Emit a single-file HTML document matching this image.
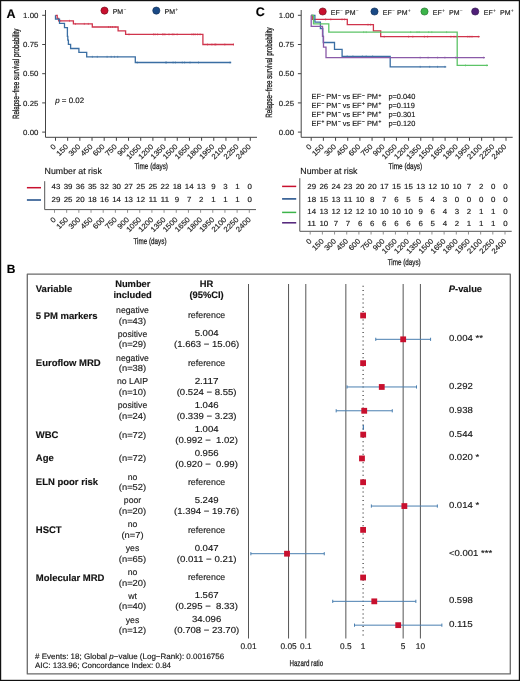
<!DOCTYPE html><html><head><meta charset="utf-8"><style>html,body{margin:0;padding:0;background:#fff;}svg{display:block;will-change:transform;} text{stroke:#1a1a1a;stroke-width:0.2px;stroke-opacity:0.7;text-rendering:geometricPrecision}</style></head><body>
<svg width="520" height="681" viewBox="0 0 520 681" font-family="Liberation Sans, sans-serif">
<rect x="0" y="0" width="520" height="681" fill="#fff"/>
<text x="6.6" y="17.9" font-size="12.5" text-anchor="start" font-weight="bold" fill="#000" xml:space="preserve" >A</text>
<text x="255.8" y="16.2" font-size="12.5" text-anchor="start" font-weight="bold" fill="#000" xml:space="preserve" >C</text>
<text x="6.8" y="272.5" font-size="12" text-anchor="start" font-weight="bold" fill="#000" xml:space="preserve" >B</text>
<g stroke="#444" stroke-width="1" fill="none">
<path d="M45.5,10 V137.3 H257"/>
<path d="M42.2,15.3 H45.5"/>
<path d="M42.2,44.5 H45.5"/>
<path d="M42.2,73.7 H45.5"/>
<path d="M42.2,102.9 H45.5"/>
<path d="M42.2,132.1 H45.5"/>
<path d="M55.5,137.3 V140.8"/>
<path d="M67.67,137.3 V140.8"/>
<path d="M79.85,137.3 V140.8"/>
<path d="M92.03,137.3 V140.8"/>
<path d="M104.2,137.3 V140.8"/>
<path d="M116.38,137.3 V140.8"/>
<path d="M128.55,137.3 V140.8"/>
<path d="M140.73,137.3 V140.8"/>
<path d="M152.9,137.3 V140.8"/>
<path d="M165.07,137.3 V140.8"/>
<path d="M177.25,137.3 V140.8"/>
<path d="M189.43,137.3 V140.8"/>
<path d="M201.6,137.3 V140.8"/>
<path d="M213.78,137.3 V140.8"/>
<path d="M225.95,137.3 V140.8"/>
<path d="M238.12,137.3 V140.8"/>
<path d="M250.3,137.3 V140.8"/>
</g>
<text x="38.4" y="17.9" font-size="7.4" text-anchor="end" fill="#1c1c1c" textLength="15.27" lengthAdjust="spacingAndGlyphs" xml:space="preserve" >1.00</text>
<text x="38.4" y="47.1" font-size="7.4" text-anchor="end" fill="#1c1c1c" textLength="15.27" lengthAdjust="spacingAndGlyphs" xml:space="preserve" >0.75</text>
<text x="38.4" y="76.3" font-size="7.4" text-anchor="end" fill="#1c1c1c" textLength="15.27" lengthAdjust="spacingAndGlyphs" xml:space="preserve" >0.50</text>
<text x="38.4" y="105.5" font-size="7.4" text-anchor="end" fill="#1c1c1c" textLength="15.27" lengthAdjust="spacingAndGlyphs" xml:space="preserve" >0.25</text>
<text x="38.4" y="134.7" font-size="7.4" text-anchor="end" fill="#1c1c1c" textLength="15.27" lengthAdjust="spacingAndGlyphs" xml:space="preserve" >0.00</text>
<text transform="translate(18.9,73.8) rotate(-90)" font-size="9" text-anchor="middle" fill="#1a1a1a" style="stroke-width:0.3px;stroke-opacity:1" textLength="90.5" lengthAdjust="spacingAndGlyphs">Relapse−free survival probability</text>
<text transform="translate(56.5,147.2) rotate(-45)" font-size="7.4" text-anchor="end" fill="#1c1c1c" textLength="4.44" lengthAdjust="spacingAndGlyphs">0</text>
<text transform="translate(68.67,147.2) rotate(-45)" font-size="7.4" text-anchor="end" fill="#1c1c1c" textLength="13.33" lengthAdjust="spacingAndGlyphs">150</text>
<text transform="translate(80.85,147.2) rotate(-45)" font-size="7.4" text-anchor="end" fill="#1c1c1c" textLength="13.33" lengthAdjust="spacingAndGlyphs">300</text>
<text transform="translate(93.03,147.2) rotate(-45)" font-size="7.4" text-anchor="end" fill="#1c1c1c" textLength="13.33" lengthAdjust="spacingAndGlyphs">450</text>
<text transform="translate(105.2,147.2) rotate(-45)" font-size="7.4" text-anchor="end" fill="#1c1c1c" textLength="13.33" lengthAdjust="spacingAndGlyphs">600</text>
<text transform="translate(117.38,147.2) rotate(-45)" font-size="7.4" text-anchor="end" fill="#1c1c1c" textLength="13.33" lengthAdjust="spacingAndGlyphs">750</text>
<text transform="translate(129.55,147.2) rotate(-45)" font-size="7.4" text-anchor="end" fill="#1c1c1c" textLength="13.33" lengthAdjust="spacingAndGlyphs">900</text>
<text transform="translate(141.73,147.2) rotate(-45)" font-size="7.4" text-anchor="end" fill="#1c1c1c" textLength="17.78" lengthAdjust="spacingAndGlyphs">1050</text>
<text transform="translate(153.9,147.2) rotate(-45)" font-size="7.4" text-anchor="end" fill="#1c1c1c" textLength="17.78" lengthAdjust="spacingAndGlyphs">1200</text>
<text transform="translate(166.07,147.2) rotate(-45)" font-size="7.4" text-anchor="end" fill="#1c1c1c" textLength="17.78" lengthAdjust="spacingAndGlyphs">1350</text>
<text transform="translate(178.25,147.2) rotate(-45)" font-size="7.4" text-anchor="end" fill="#1c1c1c" textLength="17.78" lengthAdjust="spacingAndGlyphs">1500</text>
<text transform="translate(190.43,147.2) rotate(-45)" font-size="7.4" text-anchor="end" fill="#1c1c1c" textLength="17.78" lengthAdjust="spacingAndGlyphs">1650</text>
<text transform="translate(202.6,147.2) rotate(-45)" font-size="7.4" text-anchor="end" fill="#1c1c1c" textLength="17.78" lengthAdjust="spacingAndGlyphs">1800</text>
<text transform="translate(214.78,147.2) rotate(-45)" font-size="7.4" text-anchor="end" fill="#1c1c1c" textLength="17.78" lengthAdjust="spacingAndGlyphs">1950</text>
<text transform="translate(226.95,147.2) rotate(-45)" font-size="7.4" text-anchor="end" fill="#1c1c1c" textLength="17.78" lengthAdjust="spacingAndGlyphs">2100</text>
<text transform="translate(239.12,147.2) rotate(-45)" font-size="7.4" text-anchor="end" fill="#1c1c1c" textLength="17.78" lengthAdjust="spacingAndGlyphs">2250</text>
<text transform="translate(251.3,147.2) rotate(-45)" font-size="7.4" text-anchor="end" fill="#1c1c1c" textLength="17.78" lengthAdjust="spacingAndGlyphs">2400</text>
<text x="151.2" y="169.2" font-size="8.5" text-anchor="middle" fill="#1a1a1a" style="stroke-width:0.25px;stroke-opacity:1" textLength="33.6" lengthAdjust="spacingAndGlyphs">Time (days)</text>
<path d="M55.5,15.3 H57.2 V18.3 H58.6 V20.8 H73.4 V23.9 H92.3 V27 H118.1 V30.8 H125.6 V34.4 H202.9 V44.5 H234" fill="none" stroke="#d0344c" stroke-width="1.3"/>
<path d="M60.7,19.8 V21.8" stroke="#d0344c" stroke-width="0.6"/>
<path d="M69.5,19.8 V21.8" stroke="#d0344c" stroke-width="0.6"/>
<path d="M75.5,22.9 V24.9" stroke="#d0344c" stroke-width="0.6"/>
<path d="M84.3,22.9 V24.9" stroke="#d0344c" stroke-width="0.6"/>
<path d="M88.3,22.9 V24.9" stroke="#d0344c" stroke-width="0.6"/>
<path d="M108.5,26 V28" stroke="#d0344c" stroke-width="0.6"/>
<path d="M110.5,26 V28" stroke="#d0344c" stroke-width="0.6"/>
<path d="M112.5,26 V28" stroke="#d0344c" stroke-width="0.6"/>
<path d="M115.2,26 V28" stroke="#d0344c" stroke-width="0.6"/>
<path d="M129,33.4 V35.4" stroke="#d0344c" stroke-width="0.6"/>
<path d="M153.5,33.4 V35.4" stroke="#d0344c" stroke-width="0.6"/>
<path d="M155.1,33.4 V35.4" stroke="#d0344c" stroke-width="0.6"/>
<path d="M157.6,33.4 V35.4" stroke="#d0344c" stroke-width="0.6"/>
<path d="M162.5,33.4 V35.4" stroke="#d0344c" stroke-width="0.6"/>
<path d="M163.8,33.4 V35.4" stroke="#d0344c" stroke-width="0.6"/>
<path d="M165,33.4 V35.4" stroke="#d0344c" stroke-width="0.6"/>
<path d="M169,33.4 V35.4" stroke="#d0344c" stroke-width="0.6"/>
<path d="M172.3,33.4 V35.4" stroke="#d0344c" stroke-width="0.6"/>
<path d="M173.9,33.4 V35.4" stroke="#d0344c" stroke-width="0.6"/>
<path d="M177.2,33.4 V35.4" stroke="#d0344c" stroke-width="0.6"/>
<path d="M191.9,33.4 V35.4" stroke="#d0344c" stroke-width="0.6"/>
<path d="M193.6,33.4 V35.4" stroke="#d0344c" stroke-width="0.6"/>
<path d="M195.2,33.4 V35.4" stroke="#d0344c" stroke-width="0.6"/>
<path d="M197.6,33.4 V35.4" stroke="#d0344c" stroke-width="0.6"/>
<path d="M200.1,33.4 V35.4" stroke="#d0344c" stroke-width="0.6"/>
<path d="M207.5,43.5 V45.5" stroke="#d0344c" stroke-width="0.6"/>
<path d="M211.9,43.5 V45.5" stroke="#d0344c" stroke-width="0.6"/>
<path d="M214.9,43.5 V45.5" stroke="#d0344c" stroke-width="0.6"/>
<path d="M215.8,43.5 V45.5" stroke="#d0344c" stroke-width="0.6"/>
<path d="M224.8,43.5 V45.5" stroke="#d0344c" stroke-width="0.6"/>
<path d="M233.5,43.5 V45.5" stroke="#d0344c" stroke-width="0.6"/>
<path d="M55.5,15.3 V19.1 H59.5 V23.3 H64.5 V27.6 H67.4 V36.4 H67.8 V40.2 H68.4 V44.3 H70.6 V48.5 H78.9 V52.4 H86.7 V56.8 H135.3 V62.5 H231.2" fill="none" stroke="#3a6ea3" stroke-width="1.3"/>
<path d="M92.4,55.8 V57.8" stroke="#3a6ea3" stroke-width="0.6"/>
<path d="M97.3,55.8 V57.8" stroke="#3a6ea3" stroke-width="0.6"/>
<path d="M107.1,55.8 V57.8" stroke="#3a6ea3" stroke-width="0.6"/>
<path d="M111.2,55.8 V57.8" stroke="#3a6ea3" stroke-width="0.6"/>
<path d="M114.4,55.8 V57.8" stroke="#3a6ea3" stroke-width="0.6"/>
<path d="M117.7,55.8 V57.8" stroke="#3a6ea3" stroke-width="0.6"/>
<path d="M137.3,61.5 V63.5" stroke="#3a6ea3" stroke-width="0.6"/>
<path d="M165.9,61.5 V63.5" stroke="#3a6ea3" stroke-width="0.6"/>
<path d="M166.2,61.5 V63.5" stroke="#3a6ea3" stroke-width="0.6"/>
<path d="M173.1,61.5 V63.5" stroke="#3a6ea3" stroke-width="0.6"/>
<path d="M175.4,61.5 V63.5" stroke="#3a6ea3" stroke-width="0.6"/>
<path d="M182.3,61.5 V63.5" stroke="#3a6ea3" stroke-width="0.6"/>
<path d="M184.6,61.5 V63.5" stroke="#3a6ea3" stroke-width="0.6"/>
<path d="M190,61.5 V63.5" stroke="#3a6ea3" stroke-width="0.6"/>
<path d="M198.5,61.5 V63.5" stroke="#3a6ea3" stroke-width="0.6"/>
<path d="M230,61.5 V63.5" stroke="#3a6ea3" stroke-width="0.6"/>
<circle cx="104.5" cy="10.6" r="3.6" fill="#c8102e" stroke="#6a0a18" stroke-width="0.6"/>
<text x="112.7" y="14" font-size="7" fill="#151515">PM<tspan font-size="4.20" fill="#8a8a8a" dx="0.5" dy="-2.9">−</tspan></text>
<circle cx="156.3" cy="10.6" r="3.6" fill="#1a4a86" stroke="#0e2a50" stroke-width="0.6"/>
<text x="164.6" y="14" font-size="7" fill="#151515">PM<tspan font-size="4.20" fill="#444" dx="0.5" dy="-2.9">+</tspan></text>
<text x="55.2" y="103" font-size="7.8" fill="#151515" textLength="29" lengthAdjust="spacingAndGlyphs"><tspan font-style="italic">p</tspan> = 0.02</text>
<text x="44.6" y="173.8" font-size="8.8" fill="#151515">Number at risk</text>
<g stroke="#444" stroke-width="1" fill="none">
<path d="M44.7,181.2 V209.6 H256" stroke="#555"/>
<path d="M54.5,209.6 V212.8" stroke="#777" stroke-width="0.8"/>
<path d="M66.67,209.6 V212.8" stroke="#777" stroke-width="0.8"/>
<path d="M78.85,209.6 V212.8" stroke="#777" stroke-width="0.8"/>
<path d="M91.03,209.6 V212.8" stroke="#777" stroke-width="0.8"/>
<path d="M103.2,209.6 V212.8" stroke="#777" stroke-width="0.8"/>
<path d="M115.38,209.6 V212.8" stroke="#777" stroke-width="0.8"/>
<path d="M127.55,209.6 V212.8" stroke="#777" stroke-width="0.8"/>
<path d="M139.73,209.6 V212.8" stroke="#777" stroke-width="0.8"/>
<path d="M151.9,209.6 V212.8" stroke="#777" stroke-width="0.8"/>
<path d="M164.07,209.6 V212.8" stroke="#777" stroke-width="0.8"/>
<path d="M176.25,209.6 V212.8" stroke="#777" stroke-width="0.8"/>
<path d="M188.43,209.6 V212.8" stroke="#777" stroke-width="0.8"/>
<path d="M200.6,209.6 V212.8" stroke="#777" stroke-width="0.8"/>
<path d="M212.78,209.6 V212.8" stroke="#777" stroke-width="0.8"/>
<path d="M224.95,209.6 V212.8" stroke="#777" stroke-width="0.8"/>
<path d="M237.12,209.6 V212.8" stroke="#777" stroke-width="0.8"/>
<path d="M249.3,209.6 V212.8" stroke="#777" stroke-width="0.8"/>
</g>
<path d="M26.9,187.7 H41" stroke="#c8102e" stroke-width="1.5"/>
<text x="56" y="189" font-size="7.4" text-anchor="middle" fill="#151515" textLength="8.81" lengthAdjust="spacingAndGlyphs" xml:space="preserve" >43</text>
<text x="68.11" y="189" font-size="7.4" text-anchor="middle" fill="#151515" textLength="8.81" lengthAdjust="spacingAndGlyphs" xml:space="preserve" >39</text>
<text x="80.21" y="189" font-size="7.4" text-anchor="middle" fill="#151515" textLength="8.81" lengthAdjust="spacingAndGlyphs" xml:space="preserve" >36</text>
<text x="92.31" y="189" font-size="7.4" text-anchor="middle" fill="#151515" textLength="8.81" lengthAdjust="spacingAndGlyphs" xml:space="preserve" >35</text>
<text x="104.42" y="189" font-size="7.4" text-anchor="middle" fill="#151515" textLength="8.81" lengthAdjust="spacingAndGlyphs" xml:space="preserve" >32</text>
<text x="116.53" y="189" font-size="7.4" text-anchor="middle" fill="#151515" textLength="8.81" lengthAdjust="spacingAndGlyphs" xml:space="preserve" >30</text>
<text x="128.63" y="189" font-size="7.4" text-anchor="middle" fill="#151515" textLength="8.81" lengthAdjust="spacingAndGlyphs" xml:space="preserve" >27</text>
<text x="140.74" y="189" font-size="7.4" text-anchor="middle" fill="#151515" textLength="8.81" lengthAdjust="spacingAndGlyphs" xml:space="preserve" >25</text>
<text x="152.84" y="189" font-size="7.4" text-anchor="middle" fill="#151515" textLength="8.81" lengthAdjust="spacingAndGlyphs" xml:space="preserve" >25</text>
<text x="164.94" y="189" font-size="7.4" text-anchor="middle" fill="#151515" textLength="8.81" lengthAdjust="spacingAndGlyphs" xml:space="preserve" >22</text>
<text x="177.05" y="189" font-size="7.4" text-anchor="middle" fill="#151515" textLength="8.81" lengthAdjust="spacingAndGlyphs" xml:space="preserve" >18</text>
<text x="189.16" y="189" font-size="7.4" text-anchor="middle" fill="#151515" textLength="8.81" lengthAdjust="spacingAndGlyphs" xml:space="preserve" >14</text>
<text x="201.26" y="189" font-size="7.4" text-anchor="middle" fill="#151515" textLength="8.81" lengthAdjust="spacingAndGlyphs" xml:space="preserve" >13</text>
<text x="213.37" y="189" font-size="7.4" text-anchor="middle" fill="#151515" textLength="4.40" lengthAdjust="spacingAndGlyphs" xml:space="preserve" >9</text>
<text x="225.47" y="189" font-size="7.4" text-anchor="middle" fill="#151515" textLength="4.40" lengthAdjust="spacingAndGlyphs" xml:space="preserve" >3</text>
<text x="237.58" y="189" font-size="7.4" text-anchor="middle" fill="#151515" textLength="4.40" lengthAdjust="spacingAndGlyphs" xml:space="preserve" >1</text>
<text x="249.68" y="189" font-size="7.4" text-anchor="middle" fill="#151515" textLength="4.40" lengthAdjust="spacingAndGlyphs" xml:space="preserve" >0</text>
<path d="M26.9,200 H41" stroke="#1a4a86" stroke-width="1.5"/>
<text x="56" y="201.6" font-size="7.4" text-anchor="middle" fill="#151515" textLength="8.81" lengthAdjust="spacingAndGlyphs" xml:space="preserve" >29</text>
<text x="68.11" y="201.6" font-size="7.4" text-anchor="middle" fill="#151515" textLength="8.81" lengthAdjust="spacingAndGlyphs" xml:space="preserve" >25</text>
<text x="80.21" y="201.6" font-size="7.4" text-anchor="middle" fill="#151515" textLength="8.81" lengthAdjust="spacingAndGlyphs" xml:space="preserve" >20</text>
<text x="92.31" y="201.6" font-size="7.4" text-anchor="middle" fill="#151515" textLength="8.81" lengthAdjust="spacingAndGlyphs" xml:space="preserve" >18</text>
<text x="104.42" y="201.6" font-size="7.4" text-anchor="middle" fill="#151515" textLength="8.81" lengthAdjust="spacingAndGlyphs" xml:space="preserve" >16</text>
<text x="116.53" y="201.6" font-size="7.4" text-anchor="middle" fill="#151515" textLength="8.81" lengthAdjust="spacingAndGlyphs" xml:space="preserve" >14</text>
<text x="128.63" y="201.6" font-size="7.4" text-anchor="middle" fill="#151515" textLength="8.81" lengthAdjust="spacingAndGlyphs" xml:space="preserve" >13</text>
<text x="140.74" y="201.6" font-size="7.4" text-anchor="middle" fill="#151515" textLength="8.81" lengthAdjust="spacingAndGlyphs" xml:space="preserve" >12</text>
<text x="152.84" y="201.6" font-size="7.4" text-anchor="middle" fill="#151515" textLength="8.81" lengthAdjust="spacingAndGlyphs" xml:space="preserve" >11</text>
<text x="164.94" y="201.6" font-size="7.4" text-anchor="middle" fill="#151515" textLength="8.81" lengthAdjust="spacingAndGlyphs" xml:space="preserve" >11</text>
<text x="177.05" y="201.6" font-size="7.4" text-anchor="middle" fill="#151515" textLength="4.40" lengthAdjust="spacingAndGlyphs" xml:space="preserve" >9</text>
<text x="189.16" y="201.6" font-size="7.4" text-anchor="middle" fill="#151515" textLength="4.40" lengthAdjust="spacingAndGlyphs" xml:space="preserve" >7</text>
<text x="201.26" y="201.6" font-size="7.4" text-anchor="middle" fill="#151515" textLength="4.40" lengthAdjust="spacingAndGlyphs" xml:space="preserve" >2</text>
<text x="213.37" y="201.6" font-size="7.4" text-anchor="middle" fill="#151515" textLength="4.40" lengthAdjust="spacingAndGlyphs" xml:space="preserve" >1</text>
<text x="225.47" y="201.6" font-size="7.4" text-anchor="middle" fill="#151515" textLength="4.40" lengthAdjust="spacingAndGlyphs" xml:space="preserve" >1</text>
<text x="237.58" y="201.6" font-size="7.4" text-anchor="middle" fill="#151515" textLength="4.40" lengthAdjust="spacingAndGlyphs" xml:space="preserve" >1</text>
<text x="249.68" y="201.6" font-size="7.4" text-anchor="middle" fill="#151515" textLength="4.40" lengthAdjust="spacingAndGlyphs" xml:space="preserve" >0</text>
<text transform="translate(56.5,220) rotate(-45)" font-size="7.4" text-anchor="end" fill="#1c1c1c" textLength="4.44" lengthAdjust="spacingAndGlyphs">0</text>
<text transform="translate(68.67,220) rotate(-45)" font-size="7.4" text-anchor="end" fill="#1c1c1c" textLength="13.33" lengthAdjust="spacingAndGlyphs">150</text>
<text transform="translate(80.85,220) rotate(-45)" font-size="7.4" text-anchor="end" fill="#1c1c1c" textLength="13.33" lengthAdjust="spacingAndGlyphs">300</text>
<text transform="translate(93.03,220) rotate(-45)" font-size="7.4" text-anchor="end" fill="#1c1c1c" textLength="13.33" lengthAdjust="spacingAndGlyphs">450</text>
<text transform="translate(105.2,220) rotate(-45)" font-size="7.4" text-anchor="end" fill="#1c1c1c" textLength="13.33" lengthAdjust="spacingAndGlyphs">600</text>
<text transform="translate(117.38,220) rotate(-45)" font-size="7.4" text-anchor="end" fill="#1c1c1c" textLength="13.33" lengthAdjust="spacingAndGlyphs">750</text>
<text transform="translate(129.55,220) rotate(-45)" font-size="7.4" text-anchor="end" fill="#1c1c1c" textLength="13.33" lengthAdjust="spacingAndGlyphs">900</text>
<text transform="translate(141.73,220) rotate(-45)" font-size="7.4" text-anchor="end" fill="#1c1c1c" textLength="17.78" lengthAdjust="spacingAndGlyphs">1050</text>
<text transform="translate(153.9,220) rotate(-45)" font-size="7.4" text-anchor="end" fill="#1c1c1c" textLength="17.78" lengthAdjust="spacingAndGlyphs">1200</text>
<text transform="translate(166.07,220) rotate(-45)" font-size="7.4" text-anchor="end" fill="#1c1c1c" textLength="17.78" lengthAdjust="spacingAndGlyphs">1350</text>
<text transform="translate(178.25,220) rotate(-45)" font-size="7.4" text-anchor="end" fill="#1c1c1c" textLength="17.78" lengthAdjust="spacingAndGlyphs">1500</text>
<text transform="translate(190.43,220) rotate(-45)" font-size="7.4" text-anchor="end" fill="#1c1c1c" textLength="17.78" lengthAdjust="spacingAndGlyphs">1650</text>
<text transform="translate(202.6,220) rotate(-45)" font-size="7.4" text-anchor="end" fill="#1c1c1c" textLength="17.78" lengthAdjust="spacingAndGlyphs">1800</text>
<text transform="translate(214.78,220) rotate(-45)" font-size="7.4" text-anchor="end" fill="#1c1c1c" textLength="17.78" lengthAdjust="spacingAndGlyphs">1950</text>
<text transform="translate(226.95,220) rotate(-45)" font-size="7.4" text-anchor="end" fill="#1c1c1c" textLength="17.78" lengthAdjust="spacingAndGlyphs">2100</text>
<text transform="translate(239.12,220) rotate(-45)" font-size="7.4" text-anchor="end" fill="#1c1c1c" textLength="17.78" lengthAdjust="spacingAndGlyphs">2250</text>
<text transform="translate(251.3,220) rotate(-45)" font-size="7.4" text-anchor="end" fill="#1c1c1c" textLength="17.78" lengthAdjust="spacingAndGlyphs">2400</text>
<text x="150" y="243.5" font-size="8.5" text-anchor="middle" fill="#1a1a1a" style="stroke-width:0.25px;stroke-opacity:1" textLength="33" lengthAdjust="spacingAndGlyphs">Time (days)</text>
<g stroke="#444" stroke-width="1" fill="none">
<path d="M301.2,10 V137.3 H512.7"/>
<path d="M297.9,15.3 H301.2"/>
<path d="M297.9,44.5 H301.2"/>
<path d="M297.9,73.7 H301.2"/>
<path d="M297.9,102.9 H301.2"/>
<path d="M297.9,132.1 H301.2"/>
<path d="M311.2,137.3 V140.8"/>
<path d="M323.38,137.3 V140.8"/>
<path d="M335.55,137.3 V140.8"/>
<path d="M347.73,137.3 V140.8"/>
<path d="M359.9,137.3 V140.8"/>
<path d="M372.07,137.3 V140.8"/>
<path d="M384.25,137.3 V140.8"/>
<path d="M396.43,137.3 V140.8"/>
<path d="M408.6,137.3 V140.8"/>
<path d="M420.77,137.3 V140.8"/>
<path d="M432.95,137.3 V140.8"/>
<path d="M445.12,137.3 V140.8"/>
<path d="M457.3,137.3 V140.8"/>
<path d="M469.48,137.3 V140.8"/>
<path d="M481.65,137.3 V140.8"/>
<path d="M493.82,137.3 V140.8"/>
<path d="M506,137.3 V140.8"/>
</g>
<text x="294.1" y="17.9" font-size="7.4" text-anchor="end" fill="#1c1c1c" textLength="15.27" lengthAdjust="spacingAndGlyphs" xml:space="preserve" >1.00</text>
<text x="294.1" y="47.1" font-size="7.4" text-anchor="end" fill="#1c1c1c" textLength="15.27" lengthAdjust="spacingAndGlyphs" xml:space="preserve" >0.75</text>
<text x="294.1" y="76.3" font-size="7.4" text-anchor="end" fill="#1c1c1c" textLength="15.27" lengthAdjust="spacingAndGlyphs" xml:space="preserve" >0.50</text>
<text x="294.1" y="105.5" font-size="7.4" text-anchor="end" fill="#1c1c1c" textLength="15.27" lengthAdjust="spacingAndGlyphs" xml:space="preserve" >0.25</text>
<text x="294.1" y="134.7" font-size="7.4" text-anchor="end" fill="#1c1c1c" textLength="15.27" lengthAdjust="spacingAndGlyphs" xml:space="preserve" >0.00</text>
<text transform="translate(272,72.6) rotate(-90)" font-size="9" text-anchor="middle" fill="#1a1a1a" style="stroke-width:0.3px;stroke-opacity:1" textLength="90.5" lengthAdjust="spacingAndGlyphs">Relapse−free survival probability</text>
<text transform="translate(312.2,147.2) rotate(-45)" font-size="7.4" text-anchor="end" fill="#1c1c1c" textLength="4.44" lengthAdjust="spacingAndGlyphs">0</text>
<text transform="translate(324.38,147.2) rotate(-45)" font-size="7.4" text-anchor="end" fill="#1c1c1c" textLength="13.33" lengthAdjust="spacingAndGlyphs">150</text>
<text transform="translate(336.55,147.2) rotate(-45)" font-size="7.4" text-anchor="end" fill="#1c1c1c" textLength="13.33" lengthAdjust="spacingAndGlyphs">300</text>
<text transform="translate(348.73,147.2) rotate(-45)" font-size="7.4" text-anchor="end" fill="#1c1c1c" textLength="13.33" lengthAdjust="spacingAndGlyphs">450</text>
<text transform="translate(360.9,147.2) rotate(-45)" font-size="7.4" text-anchor="end" fill="#1c1c1c" textLength="13.33" lengthAdjust="spacingAndGlyphs">600</text>
<text transform="translate(373.07,147.2) rotate(-45)" font-size="7.4" text-anchor="end" fill="#1c1c1c" textLength="13.33" lengthAdjust="spacingAndGlyphs">750</text>
<text transform="translate(385.25,147.2) rotate(-45)" font-size="7.4" text-anchor="end" fill="#1c1c1c" textLength="13.33" lengthAdjust="spacingAndGlyphs">900</text>
<text transform="translate(397.43,147.2) rotate(-45)" font-size="7.4" text-anchor="end" fill="#1c1c1c" textLength="17.78" lengthAdjust="spacingAndGlyphs">1050</text>
<text transform="translate(409.6,147.2) rotate(-45)" font-size="7.4" text-anchor="end" fill="#1c1c1c" textLength="17.78" lengthAdjust="spacingAndGlyphs">1200</text>
<text transform="translate(421.77,147.2) rotate(-45)" font-size="7.4" text-anchor="end" fill="#1c1c1c" textLength="17.78" lengthAdjust="spacingAndGlyphs">1350</text>
<text transform="translate(433.95,147.2) rotate(-45)" font-size="7.4" text-anchor="end" fill="#1c1c1c" textLength="17.78" lengthAdjust="spacingAndGlyphs">1500</text>
<text transform="translate(446.12,147.2) rotate(-45)" font-size="7.4" text-anchor="end" fill="#1c1c1c" textLength="17.78" lengthAdjust="spacingAndGlyphs">1650</text>
<text transform="translate(458.3,147.2) rotate(-45)" font-size="7.4" text-anchor="end" fill="#1c1c1c" textLength="17.78" lengthAdjust="spacingAndGlyphs">1800</text>
<text transform="translate(470.48,147.2) rotate(-45)" font-size="7.4" text-anchor="end" fill="#1c1c1c" textLength="17.78" lengthAdjust="spacingAndGlyphs">1950</text>
<text transform="translate(482.65,147.2) rotate(-45)" font-size="7.4" text-anchor="end" fill="#1c1c1c" textLength="17.78" lengthAdjust="spacingAndGlyphs">2100</text>
<text transform="translate(494.82,147.2) rotate(-45)" font-size="7.4" text-anchor="end" fill="#1c1c1c" textLength="17.78" lengthAdjust="spacingAndGlyphs">2250</text>
<text transform="translate(507,147.2) rotate(-45)" font-size="7.4" text-anchor="end" fill="#1c1c1c" textLength="17.78" lengthAdjust="spacingAndGlyphs">2400</text>
<text x="405.4" y="169.2" font-size="8.5" text-anchor="middle" fill="#1a1a1a" style="stroke-width:0.25px;stroke-opacity:1" textLength="33.6" lengthAdjust="spacingAndGlyphs">Time (days)</text>
<path d="M311.2,15.3 H312.3 V19.4 H347.3 V24.7 H373.4 V30.8 H380.7 V36.7 H479.7" fill="none" stroke="#d0344c" stroke-width="1.3"/>
<path d="M325.6,18.4 V20.4" stroke="#d0344c" stroke-width="0.6"/>
<path d="M330.8,18.4 V20.4" stroke="#d0344c" stroke-width="0.6"/>
<path d="M342,18.4 V20.4" stroke="#d0344c" stroke-width="0.6"/>
<path d="M344.6,18.4 V20.4" stroke="#d0344c" stroke-width="0.6"/>
<path d="M368,23.7 V25.7" stroke="#d0344c" stroke-width="0.6"/>
<path d="M370.6,23.7 V25.7" stroke="#d0344c" stroke-width="0.6"/>
<path d="M384.2,35.7 V37.7" stroke="#d0344c" stroke-width="0.6"/>
<path d="M408.6,35.7 V37.7" stroke="#d0344c" stroke-width="0.6"/>
<path d="M412.8,35.7 V37.7" stroke="#d0344c" stroke-width="0.6"/>
<path d="M424.4,35.7 V37.7" stroke="#d0344c" stroke-width="0.6"/>
<path d="M427.6,35.7 V37.7" stroke="#d0344c" stroke-width="0.6"/>
<path d="M450.9,35.7 V37.7" stroke="#d0344c" stroke-width="0.6"/>
<path d="M454,35.7 V37.7" stroke="#d0344c" stroke-width="0.6"/>
<path d="M456.2,35.7 V37.7" stroke="#d0344c" stroke-width="0.6"/>
<path d="M467.8,35.7 V37.7" stroke="#d0344c" stroke-width="0.6"/>
<path d="M469.9,35.7 V37.7" stroke="#d0344c" stroke-width="0.6"/>
<path d="M472,35.7 V37.7" stroke="#d0344c" stroke-width="0.6"/>
<path d="M478.4,35.7 V37.7" stroke="#d0344c" stroke-width="0.6"/>
<path d="M311.2,15.3 H314.9 V22.1 H320.4 V28.5 H322.8 V36.3 H323.3 V42.5 H334.5 V49.4 H342.1 V56.4 H390.2 V66.8 H446.2" fill="none" stroke="#3a6ea3" stroke-width="1.3"/>
<path d="M347.2,55.4 V57.4" stroke="#3a6ea3" stroke-width="0.6"/>
<path d="M352.9,55.4 V57.4" stroke="#3a6ea3" stroke-width="0.6"/>
<path d="M362.4,55.4 V57.4" stroke="#3a6ea3" stroke-width="0.6"/>
<path d="M366.2,55.4 V57.4" stroke="#3a6ea3" stroke-width="0.6"/>
<path d="M372.6,55.4 V57.4" stroke="#3a6ea3" stroke-width="0.6"/>
<path d="M420.2,65.8 V67.8" stroke="#3a6ea3" stroke-width="0.6"/>
<path d="M429.7,65.8 V67.8" stroke="#3a6ea3" stroke-width="0.6"/>
<path d="M437.6,65.8 V67.8" stroke="#3a6ea3" stroke-width="0.6"/>
<path d="M444.9,65.8 V67.8" stroke="#3a6ea3" stroke-width="0.6"/>
<path d="M311.2,15.3 H313.5 V23.8 H328.8 V32.1 H457.2 V65.4 H488" fill="none" stroke="#5cc467" stroke-width="1.3"/>
<path d="M363.7,31.1 V33.1" stroke="#5cc467" stroke-width="0.6"/>
<path d="M366.2,31.1 V33.1" stroke="#5cc467" stroke-width="0.6"/>
<path d="M410.7,31.1 V33.1" stroke="#5cc467" stroke-width="0.6"/>
<path d="M417,31.1 V33.1" stroke="#5cc467" stroke-width="0.6"/>
<path d="M419.1,31.1 V33.1" stroke="#5cc467" stroke-width="0.6"/>
<path d="M428.7,31.1 V33.1" stroke="#5cc467" stroke-width="0.6"/>
<path d="M431.8,31.1 V33.1" stroke="#5cc467" stroke-width="0.6"/>
<path d="M446.6,31.1 V33.1" stroke="#5cc467" stroke-width="0.6"/>
<path d="M465.5,64.4 V66.4" stroke="#5cc467" stroke-width="0.6"/>
<path d="M486.8,64.4 V66.4" stroke="#5cc467" stroke-width="0.6"/>
<path d="M311.2,15.3 V26.3 H322.5 V36.3 H323.5 V47.1 H326 V57.6 H484.9" fill="none" stroke="#8a5aa8" stroke-width="1.3"/>
<path d="M420.2,56.6 V58.6" stroke="#8a5aa8" stroke-width="0.6"/>
<path d="M428.1,56.6 V58.6" stroke="#8a5aa8" stroke-width="0.6"/>
<path d="M437.6,56.6 V58.6" stroke="#8a5aa8" stroke-width="0.6"/>
<path d="M444.9,56.6 V58.6" stroke="#8a5aa8" stroke-width="0.6"/>
<path d="M455.7,56.6 V58.6" stroke="#8a5aa8" stroke-width="0.6"/>
<path d="M483.6,56.6 V58.6" stroke="#8a5aa8" stroke-width="0.6"/>
<circle cx="322.7" cy="11.5" r="3.6" fill="#c8102e" stroke="#6a0a18" stroke-width="0.6"/>
<text x="330.8" y="15.2" font-size="7" fill="#151515">EF<tspan font-size="4.20" fill="#8a8a8a" dx="0.5" dy="-2.9">−</tspan></text><text x="345" y="15.2" font-size="7" fill="#151515">PM<tspan font-size="4.20" fill="#8a8a8a" dx="0.5" dy="-2.9">−</tspan></text>
<circle cx="374.5" cy="11.5" r="3.6" fill="#1a4a86" stroke="#0e2a50" stroke-width="0.6"/>
<text x="382.8" y="15.2" font-size="7" fill="#151515">EF<tspan font-size="4.20" fill="#8a8a8a" dx="0.5" dy="-2.9">−</tspan></text><text x="397" y="15.2" font-size="7" fill="#151515">PM<tspan font-size="4.20" fill="#444" dx="0.5" dy="-2.9">+</tspan></text>
<circle cx="424.5" cy="11.5" r="3.6" fill="#3cb44a" stroke="#1d6a25" stroke-width="0.6"/>
<text x="432.8" y="15.2" font-size="7" fill="#151515">EF<tspan font-size="4.20" fill="#444" dx="0.5" dy="-2.9">+</tspan></text><text x="449.1" y="15.2" font-size="7" fill="#151515">PM<tspan font-size="4.20" fill="#8a8a8a" dx="0.5" dy="-2.9">−</tspan></text>
<circle cx="475.2" cy="11.5" r="3.6" fill="#4f1f78" stroke="#2a0f45" stroke-width="0.6"/>
<text x="483.8" y="15.2" font-size="7" fill="#151515">EF<tspan font-size="4.20" fill="#444" dx="0.5" dy="-2.9">+</tspan></text><text x="500.1" y="15.2" font-size="7" fill="#151515">PM<tspan font-size="4.20" fill="#444" dx="0.5" dy="-2.9">+</tspan></text>
<text x="311.5" y="98.8" font-size="7.4" fill="#151515">EF<tspan font-size="4.74" font-weight="bold" dx="0.5" dy="-2.29">−</tspan><tspan dy="2.29"> </tspan>PM<tspan font-size="4.74" font-weight="bold" dx="0.5" dy="-2.29">−</tspan><tspan dy="2.29"> </tspan>vs EF<tspan font-size="4.74" font-weight="bold" dx="0.5" dy="-2.29">−</tspan><tspan dy="2.29"> </tspan>PM<tspan font-size="4.74" font-weight="bold" dx="0.5" dy="-2.29">+</tspan><tspan dy="2.29"> </tspan></text>
<text x="388.4" y="98.8" font-size="7.4" fill="#151515">p=0.040</text>
<text x="311.5" y="107.72" font-size="7.4" fill="#151515">EF<tspan font-size="4.74" font-weight="bold" dx="0.5" dy="-2.29">−</tspan><tspan dy="2.29"> </tspan>PM<tspan font-size="4.74" font-weight="bold" dx="0.5" dy="-2.29">−</tspan><tspan dy="2.29"> </tspan>vs EF<tspan font-size="4.74" font-weight="bold" dx="0.5" dy="-2.29">+</tspan><tspan dy="2.29"> </tspan>PM<tspan font-size="4.74" font-weight="bold" dx="0.5" dy="-2.29">+</tspan><tspan dy="2.29"> </tspan></text>
<text x="388.4" y="107.72" font-size="7.4" fill="#151515">p=0.119</text>
<text x="311.5" y="116.64" font-size="7.4" fill="#151515">EF<tspan font-size="4.74" font-weight="bold" dx="0.5" dy="-2.29">+</tspan><tspan dy="2.29"> </tspan>PM<tspan font-size="4.74" font-weight="bold" dx="0.5" dy="-2.29">−</tspan><tspan dy="2.29"> </tspan>vs EF<tspan font-size="4.74" font-weight="bold" dx="0.5" dy="-2.29">+</tspan><tspan dy="2.29"> </tspan>PM<tspan font-size="4.74" font-weight="bold" dx="0.5" dy="-2.29">+</tspan><tspan dy="2.29"> </tspan></text>
<text x="388.4" y="116.64" font-size="7.4" fill="#151515">p=0.301</text>
<text x="311.5" y="125.56" font-size="7.4" fill="#151515">EF<tspan font-size="4.74" font-weight="bold" dx="0.5" dy="-2.29">+</tspan><tspan dy="2.29"> </tspan>PM<tspan font-size="4.74" font-weight="bold" dx="0.5" dy="-2.29">−</tspan><tspan dy="2.29"> </tspan>vs EF<tspan font-size="4.74" font-weight="bold" dx="0.5" dy="-2.29">−</tspan><tspan dy="2.29"> </tspan>PM<tspan font-size="4.74" font-weight="bold" dx="0.5" dy="-2.29">+</tspan><tspan dy="2.29"> </tspan></text>
<text x="388.4" y="125.56" font-size="7.4" fill="#151515">p=0.120</text>
<text x="300.3" y="173.8" font-size="8.8" fill="#151515">Number at risk</text>
<g stroke="#444" stroke-width="1" fill="none">
<path d="M299.8,178.2 V231.3 H511.7" stroke="#555"/>
<path d="M310.2,231.3 V234.5" stroke="#777" stroke-width="0.8"/>
<path d="M322.38,231.3 V234.5" stroke="#777" stroke-width="0.8"/>
<path d="M334.55,231.3 V234.5" stroke="#777" stroke-width="0.8"/>
<path d="M346.73,231.3 V234.5" stroke="#777" stroke-width="0.8"/>
<path d="M358.9,231.3 V234.5" stroke="#777" stroke-width="0.8"/>
<path d="M371.07,231.3 V234.5" stroke="#777" stroke-width="0.8"/>
<path d="M383.25,231.3 V234.5" stroke="#777" stroke-width="0.8"/>
<path d="M395.43,231.3 V234.5" stroke="#777" stroke-width="0.8"/>
<path d="M407.6,231.3 V234.5" stroke="#777" stroke-width="0.8"/>
<path d="M419.77,231.3 V234.5" stroke="#777" stroke-width="0.8"/>
<path d="M431.95,231.3 V234.5" stroke="#777" stroke-width="0.8"/>
<path d="M444.12,231.3 V234.5" stroke="#777" stroke-width="0.8"/>
<path d="M456.3,231.3 V234.5" stroke="#777" stroke-width="0.8"/>
<path d="M468.48,231.3 V234.5" stroke="#777" stroke-width="0.8"/>
<path d="M480.65,231.3 V234.5" stroke="#777" stroke-width="0.8"/>
<path d="M492.82,231.3 V234.5" stroke="#777" stroke-width="0.8"/>
<path d="M505,231.3 V234.5" stroke="#777" stroke-width="0.8"/>
</g>
<path d="M282.1,186.4 H296.2" stroke="#c8102e" stroke-width="1.5"/>
<text x="311.7" y="189.1" font-size="7.4" text-anchor="middle" fill="#151515" textLength="8.81" lengthAdjust="spacingAndGlyphs" xml:space="preserve" >29</text>
<text x="323.81" y="189.1" font-size="7.4" text-anchor="middle" fill="#151515" textLength="8.81" lengthAdjust="spacingAndGlyphs" xml:space="preserve" >26</text>
<text x="335.91" y="189.1" font-size="7.4" text-anchor="middle" fill="#151515" textLength="8.81" lengthAdjust="spacingAndGlyphs" xml:space="preserve" >24</text>
<text x="348.01" y="189.1" font-size="7.4" text-anchor="middle" fill="#151515" textLength="8.81" lengthAdjust="spacingAndGlyphs" xml:space="preserve" >23</text>
<text x="360.12" y="189.1" font-size="7.4" text-anchor="middle" fill="#151515" textLength="8.81" lengthAdjust="spacingAndGlyphs" xml:space="preserve" >20</text>
<text x="372.23" y="189.1" font-size="7.4" text-anchor="middle" fill="#151515" textLength="8.81" lengthAdjust="spacingAndGlyphs" xml:space="preserve" >20</text>
<text x="384.33" y="189.1" font-size="7.4" text-anchor="middle" fill="#151515" textLength="8.81" lengthAdjust="spacingAndGlyphs" xml:space="preserve" >17</text>
<text x="396.44" y="189.1" font-size="7.4" text-anchor="middle" fill="#151515" textLength="8.81" lengthAdjust="spacingAndGlyphs" xml:space="preserve" >15</text>
<text x="408.54" y="189.1" font-size="7.4" text-anchor="middle" fill="#151515" textLength="8.81" lengthAdjust="spacingAndGlyphs" xml:space="preserve" >15</text>
<text x="420.64" y="189.1" font-size="7.4" text-anchor="middle" fill="#151515" textLength="8.81" lengthAdjust="spacingAndGlyphs" xml:space="preserve" >13</text>
<text x="432.75" y="189.1" font-size="7.4" text-anchor="middle" fill="#151515" textLength="8.81" lengthAdjust="spacingAndGlyphs" xml:space="preserve" >12</text>
<text x="444.86" y="189.1" font-size="7.4" text-anchor="middle" fill="#151515" textLength="8.81" lengthAdjust="spacingAndGlyphs" xml:space="preserve" >10</text>
<text x="456.96" y="189.1" font-size="7.4" text-anchor="middle" fill="#151515" textLength="8.81" lengthAdjust="spacingAndGlyphs" xml:space="preserve" >10</text>
<text x="469.06" y="189.1" font-size="7.4" text-anchor="middle" fill="#151515" textLength="4.40" lengthAdjust="spacingAndGlyphs" xml:space="preserve" >7</text>
<text x="481.17" y="189.1" font-size="7.4" text-anchor="middle" fill="#151515" textLength="4.40" lengthAdjust="spacingAndGlyphs" xml:space="preserve" >2</text>
<text x="493.27" y="189.1" font-size="7.4" text-anchor="middle" fill="#151515" textLength="4.40" lengthAdjust="spacingAndGlyphs" xml:space="preserve" >0</text>
<text x="505.38" y="189.1" font-size="7.4" text-anchor="middle" fill="#151515" textLength="4.40" lengthAdjust="spacingAndGlyphs" xml:space="preserve" >0</text>
<path d="M282.1,198.9 H296.2" stroke="#1a4a86" stroke-width="1.5"/>
<text x="311.7" y="201.5" font-size="7.4" text-anchor="middle" fill="#151515" textLength="8.81" lengthAdjust="spacingAndGlyphs" xml:space="preserve" >18</text>
<text x="323.81" y="201.5" font-size="7.4" text-anchor="middle" fill="#151515" textLength="8.81" lengthAdjust="spacingAndGlyphs" xml:space="preserve" >15</text>
<text x="335.91" y="201.5" font-size="7.4" text-anchor="middle" fill="#151515" textLength="8.81" lengthAdjust="spacingAndGlyphs" xml:space="preserve" >13</text>
<text x="348.01" y="201.5" font-size="7.4" text-anchor="middle" fill="#151515" textLength="8.81" lengthAdjust="spacingAndGlyphs" xml:space="preserve" >11</text>
<text x="360.12" y="201.5" font-size="7.4" text-anchor="middle" fill="#151515" textLength="8.81" lengthAdjust="spacingAndGlyphs" xml:space="preserve" >10</text>
<text x="372.23" y="201.5" font-size="7.4" text-anchor="middle" fill="#151515" textLength="4.40" lengthAdjust="spacingAndGlyphs" xml:space="preserve" >8</text>
<text x="384.33" y="201.5" font-size="7.4" text-anchor="middle" fill="#151515" textLength="4.40" lengthAdjust="spacingAndGlyphs" xml:space="preserve" >7</text>
<text x="396.44" y="201.5" font-size="7.4" text-anchor="middle" fill="#151515" textLength="4.40" lengthAdjust="spacingAndGlyphs" xml:space="preserve" >6</text>
<text x="408.54" y="201.5" font-size="7.4" text-anchor="middle" fill="#151515" textLength="4.40" lengthAdjust="spacingAndGlyphs" xml:space="preserve" >5</text>
<text x="420.64" y="201.5" font-size="7.4" text-anchor="middle" fill="#151515" textLength="4.40" lengthAdjust="spacingAndGlyphs" xml:space="preserve" >5</text>
<text x="432.75" y="201.5" font-size="7.4" text-anchor="middle" fill="#151515" textLength="4.40" lengthAdjust="spacingAndGlyphs" xml:space="preserve" >4</text>
<text x="444.86" y="201.5" font-size="7.4" text-anchor="middle" fill="#151515" textLength="4.40" lengthAdjust="spacingAndGlyphs" xml:space="preserve" >3</text>
<text x="456.96" y="201.5" font-size="7.4" text-anchor="middle" fill="#151515" textLength="4.40" lengthAdjust="spacingAndGlyphs" xml:space="preserve" >0</text>
<text x="469.06" y="201.5" font-size="7.4" text-anchor="middle" fill="#151515" textLength="4.40" lengthAdjust="spacingAndGlyphs" xml:space="preserve" >0</text>
<text x="481.17" y="201.5" font-size="7.4" text-anchor="middle" fill="#151515" textLength="4.40" lengthAdjust="spacingAndGlyphs" xml:space="preserve" >0</text>
<text x="493.27" y="201.5" font-size="7.4" text-anchor="middle" fill="#151515" textLength="4.40" lengthAdjust="spacingAndGlyphs" xml:space="preserve" >0</text>
<text x="505.38" y="201.5" font-size="7.4" text-anchor="middle" fill="#151515" textLength="4.40" lengthAdjust="spacingAndGlyphs" xml:space="preserve" >0</text>
<path d="M282.1,212.4 H296.2" stroke="#3cb44a" stroke-width="1.5"/>
<text x="311.7" y="214.1" font-size="7.4" text-anchor="middle" fill="#151515" textLength="8.81" lengthAdjust="spacingAndGlyphs" xml:space="preserve" >14</text>
<text x="323.81" y="214.1" font-size="7.4" text-anchor="middle" fill="#151515" textLength="8.81" lengthAdjust="spacingAndGlyphs" xml:space="preserve" >13</text>
<text x="335.91" y="214.1" font-size="7.4" text-anchor="middle" fill="#151515" textLength="8.81" lengthAdjust="spacingAndGlyphs" xml:space="preserve" >12</text>
<text x="348.01" y="214.1" font-size="7.4" text-anchor="middle" fill="#151515" textLength="8.81" lengthAdjust="spacingAndGlyphs" xml:space="preserve" >12</text>
<text x="360.12" y="214.1" font-size="7.4" text-anchor="middle" fill="#151515" textLength="8.81" lengthAdjust="spacingAndGlyphs" xml:space="preserve" >12</text>
<text x="372.23" y="214.1" font-size="7.4" text-anchor="middle" fill="#151515" textLength="8.81" lengthAdjust="spacingAndGlyphs" xml:space="preserve" >10</text>
<text x="384.33" y="214.1" font-size="7.4" text-anchor="middle" fill="#151515" textLength="8.81" lengthAdjust="spacingAndGlyphs" xml:space="preserve" >10</text>
<text x="396.44" y="214.1" font-size="7.4" text-anchor="middle" fill="#151515" textLength="8.81" lengthAdjust="spacingAndGlyphs" xml:space="preserve" >10</text>
<text x="408.54" y="214.1" font-size="7.4" text-anchor="middle" fill="#151515" textLength="8.81" lengthAdjust="spacingAndGlyphs" xml:space="preserve" >10</text>
<text x="420.64" y="214.1" font-size="7.4" text-anchor="middle" fill="#151515" textLength="4.40" lengthAdjust="spacingAndGlyphs" xml:space="preserve" >9</text>
<text x="432.75" y="214.1" font-size="7.4" text-anchor="middle" fill="#151515" textLength="4.40" lengthAdjust="spacingAndGlyphs" xml:space="preserve" >6</text>
<text x="444.86" y="214.1" font-size="7.4" text-anchor="middle" fill="#151515" textLength="4.40" lengthAdjust="spacingAndGlyphs" xml:space="preserve" >4</text>
<text x="456.96" y="214.1" font-size="7.4" text-anchor="middle" fill="#151515" textLength="4.40" lengthAdjust="spacingAndGlyphs" xml:space="preserve" >3</text>
<text x="469.06" y="214.1" font-size="7.4" text-anchor="middle" fill="#151515" textLength="4.40" lengthAdjust="spacingAndGlyphs" xml:space="preserve" >2</text>
<text x="481.17" y="214.1" font-size="7.4" text-anchor="middle" fill="#151515" textLength="4.40" lengthAdjust="spacingAndGlyphs" xml:space="preserve" >1</text>
<text x="493.27" y="214.1" font-size="7.4" text-anchor="middle" fill="#151515" textLength="4.40" lengthAdjust="spacingAndGlyphs" xml:space="preserve" >1</text>
<text x="505.38" y="214.1" font-size="7.4" text-anchor="middle" fill="#151515" textLength="4.40" lengthAdjust="spacingAndGlyphs" xml:space="preserve" >0</text>
<path d="M282.1,222.8 H296.2" stroke="#4f1f78" stroke-width="1.5"/>
<text x="311.7" y="226.2" font-size="7.4" text-anchor="middle" fill="#151515" textLength="8.81" lengthAdjust="spacingAndGlyphs" xml:space="preserve" >11</text>
<text x="323.81" y="226.2" font-size="7.4" text-anchor="middle" fill="#151515" textLength="8.81" lengthAdjust="spacingAndGlyphs" xml:space="preserve" >10</text>
<text x="335.91" y="226.2" font-size="7.4" text-anchor="middle" fill="#151515" textLength="4.40" lengthAdjust="spacingAndGlyphs" xml:space="preserve" >7</text>
<text x="348.01" y="226.2" font-size="7.4" text-anchor="middle" fill="#151515" textLength="4.40" lengthAdjust="spacingAndGlyphs" xml:space="preserve" >7</text>
<text x="360.12" y="226.2" font-size="7.4" text-anchor="middle" fill="#151515" textLength="4.40" lengthAdjust="spacingAndGlyphs" xml:space="preserve" >6</text>
<text x="372.23" y="226.2" font-size="7.4" text-anchor="middle" fill="#151515" textLength="4.40" lengthAdjust="spacingAndGlyphs" xml:space="preserve" >6</text>
<text x="384.33" y="226.2" font-size="7.4" text-anchor="middle" fill="#151515" textLength="4.40" lengthAdjust="spacingAndGlyphs" xml:space="preserve" >6</text>
<text x="396.44" y="226.2" font-size="7.4" text-anchor="middle" fill="#151515" textLength="4.40" lengthAdjust="spacingAndGlyphs" xml:space="preserve" >6</text>
<text x="408.54" y="226.2" font-size="7.4" text-anchor="middle" fill="#151515" textLength="4.40" lengthAdjust="spacingAndGlyphs" xml:space="preserve" >6</text>
<text x="420.64" y="226.2" font-size="7.4" text-anchor="middle" fill="#151515" textLength="4.40" lengthAdjust="spacingAndGlyphs" xml:space="preserve" >6</text>
<text x="432.75" y="226.2" font-size="7.4" text-anchor="middle" fill="#151515" textLength="4.40" lengthAdjust="spacingAndGlyphs" xml:space="preserve" >5</text>
<text x="444.86" y="226.2" font-size="7.4" text-anchor="middle" fill="#151515" textLength="4.40" lengthAdjust="spacingAndGlyphs" xml:space="preserve" >4</text>
<text x="456.96" y="226.2" font-size="7.4" text-anchor="middle" fill="#151515" textLength="4.40" lengthAdjust="spacingAndGlyphs" xml:space="preserve" >2</text>
<text x="469.06" y="226.2" font-size="7.4" text-anchor="middle" fill="#151515" textLength="4.40" lengthAdjust="spacingAndGlyphs" xml:space="preserve" >1</text>
<text x="481.17" y="226.2" font-size="7.4" text-anchor="middle" fill="#151515" textLength="4.40" lengthAdjust="spacingAndGlyphs" xml:space="preserve" >1</text>
<text x="493.27" y="226.2" font-size="7.4" text-anchor="middle" fill="#151515" textLength="4.40" lengthAdjust="spacingAndGlyphs" xml:space="preserve" >1</text>
<text x="505.38" y="226.2" font-size="7.4" text-anchor="middle" fill="#151515" textLength="4.40" lengthAdjust="spacingAndGlyphs" xml:space="preserve" >0</text>
<text transform="translate(312.2,241.7) rotate(-45)" font-size="7.4" text-anchor="end" fill="#1c1c1c" textLength="4.44" lengthAdjust="spacingAndGlyphs">0</text>
<text transform="translate(324.38,241.7) rotate(-45)" font-size="7.4" text-anchor="end" fill="#1c1c1c" textLength="13.33" lengthAdjust="spacingAndGlyphs">150</text>
<text transform="translate(336.55,241.7) rotate(-45)" font-size="7.4" text-anchor="end" fill="#1c1c1c" textLength="13.33" lengthAdjust="spacingAndGlyphs">300</text>
<text transform="translate(348.73,241.7) rotate(-45)" font-size="7.4" text-anchor="end" fill="#1c1c1c" textLength="13.33" lengthAdjust="spacingAndGlyphs">450</text>
<text transform="translate(360.9,241.7) rotate(-45)" font-size="7.4" text-anchor="end" fill="#1c1c1c" textLength="13.33" lengthAdjust="spacingAndGlyphs">600</text>
<text transform="translate(373.07,241.7) rotate(-45)" font-size="7.4" text-anchor="end" fill="#1c1c1c" textLength="13.33" lengthAdjust="spacingAndGlyphs">750</text>
<text transform="translate(385.25,241.7) rotate(-45)" font-size="7.4" text-anchor="end" fill="#1c1c1c" textLength="13.33" lengthAdjust="spacingAndGlyphs">900</text>
<text transform="translate(397.43,241.7) rotate(-45)" font-size="7.4" text-anchor="end" fill="#1c1c1c" textLength="17.78" lengthAdjust="spacingAndGlyphs">1050</text>
<text transform="translate(409.6,241.7) rotate(-45)" font-size="7.4" text-anchor="end" fill="#1c1c1c" textLength="17.78" lengthAdjust="spacingAndGlyphs">1200</text>
<text transform="translate(421.77,241.7) rotate(-45)" font-size="7.4" text-anchor="end" fill="#1c1c1c" textLength="17.78" lengthAdjust="spacingAndGlyphs">1350</text>
<text transform="translate(433.95,241.7) rotate(-45)" font-size="7.4" text-anchor="end" fill="#1c1c1c" textLength="17.78" lengthAdjust="spacingAndGlyphs">1500</text>
<text transform="translate(446.12,241.7) rotate(-45)" font-size="7.4" text-anchor="end" fill="#1c1c1c" textLength="17.78" lengthAdjust="spacingAndGlyphs">1650</text>
<text transform="translate(458.3,241.7) rotate(-45)" font-size="7.4" text-anchor="end" fill="#1c1c1c" textLength="17.78" lengthAdjust="spacingAndGlyphs">1800</text>
<text transform="translate(470.48,241.7) rotate(-45)" font-size="7.4" text-anchor="end" fill="#1c1c1c" textLength="17.78" lengthAdjust="spacingAndGlyphs">1950</text>
<text transform="translate(482.65,241.7) rotate(-45)" font-size="7.4" text-anchor="end" fill="#1c1c1c" textLength="17.78" lengthAdjust="spacingAndGlyphs">2100</text>
<text transform="translate(494.82,241.7) rotate(-45)" font-size="7.4" text-anchor="end" fill="#1c1c1c" textLength="17.78" lengthAdjust="spacingAndGlyphs">2250</text>
<text transform="translate(507,241.7) rotate(-45)" font-size="7.4" text-anchor="end" fill="#1c1c1c" textLength="17.78" lengthAdjust="spacingAndGlyphs">2400</text>
<text x="404.2" y="265.2" font-size="8.5" text-anchor="middle" fill="#1a1a1a" style="stroke-width:0.25px;stroke-opacity:1" textLength="33" lengthAdjust="spacingAndGlyphs">Time (days)</text>
<rect x="27.3" y="274.2" width="483" height="399.7" fill="none" stroke="#6a6a6a" stroke-width="1.3" stroke-linejoin="round"/>
<text x="35.8" y="291.8" font-size="9.5" text-anchor="start" font-weight="bold" fill="#111" xml:space="preserve" >Variable</text>
<text x="132.8" y="287.4" font-size="9.35" text-anchor="middle" font-weight="bold" fill="#111" xml:space="preserve" >Number</text>
<text x="132.6" y="298.2" font-size="9.35" text-anchor="middle" font-weight="bold" fill="#111" xml:space="preserve" >included</text>
<text x="206.6" y="287.4" font-size="9.35" text-anchor="middle" font-weight="bold" fill="#111" xml:space="preserve" >HR</text>
<text x="206.6" y="298.2" font-size="9.35" text-anchor="middle" font-weight="bold" fill="#111" xml:space="preserve" >(95%CI)</text>
<text x="448.8" y="291.6" font-size="9.35" font-weight="bold" fill="#111"><tspan font-style="italic">P</tspan>-value</text>
<g stroke="#555" stroke-width="1">
<path d="M248.5,284 V638.5"/>
<path d="M288.55,284 V638.5"/>
<path d="M305.8,284 V638.5"/>
<path d="M345.85,284 V638.5"/>
<path d="M403.15,284 V638.5"/>
<path d="M420.4,284 V638.5"/>
</g>
<path d="M363.1,284 V638.5" stroke="#222" stroke-width="1.1" stroke-dasharray="1,3.2" stroke-dashoffset="2.4"/>
<text x="248.5" y="648.5" font-size="8.3" text-anchor="middle" fill="#151515" xml:space="preserve" >0.01</text>
<text x="288.55" y="648.5" font-size="8.3" text-anchor="middle" fill="#151515" xml:space="preserve" >0.05</text>
<text x="305.8" y="648.5" font-size="8.3" text-anchor="middle" fill="#151515" xml:space="preserve" >0.1</text>
<text x="345.85" y="648.5" font-size="8.3" text-anchor="middle" fill="#151515" xml:space="preserve" >0.5</text>
<text x="363.1" y="648.5" font-size="8.3" text-anchor="middle" fill="#151515" xml:space="preserve" >1</text>
<text x="403.15" y="648.5" font-size="8.3" text-anchor="middle" fill="#151515" xml:space="preserve" >5</text>
<text x="420.4" y="648.5" font-size="8.3" text-anchor="middle" fill="#151515" xml:space="preserve" >10</text>
<text x="306.3" y="666" font-size="8.5" text-anchor="middle" fill="#1a1a1a" style="stroke-width:0.25px;stroke-opacity:1" textLength="33.7" lengthAdjust="spacingAndGlyphs">Hazard ratio</text>
<text x="35.8" y="318.5" font-size="9.5" text-anchor="start" font-weight="bold" fill="#111" xml:space="preserve" >5 PM markers</text>
<text x="132.5" y="312.9" font-size="8.7" text-anchor="middle" fill="#1c1c1c" xml:space="preserve" >negative</text>
<text x="132.5" y="323.6" font-size="8.7" text-anchor="middle" fill="#1c1c1c" textLength="27.45" lengthAdjust="spacingAndGlyphs" xml:space="preserve" >(n=43)</text>
<text x="206.6" y="318.3" font-size="8.85" text-anchor="middle" fill="#1c1c1c" xml:space="preserve" >reference</text>
<rect x="360.2" y="312.6" width="5.8" height="5.8" fill="#c8102e"/>
<text x="132.5" y="336.72" font-size="8.7" text-anchor="middle" fill="#1c1c1c" xml:space="preserve" >positive</text>
<text x="132.5" y="347.42" font-size="8.7" text-anchor="middle" fill="#1c1c1c" textLength="27.45" lengthAdjust="spacingAndGlyphs" xml:space="preserve" >(n=29)</text>
<text x="206.6" y="336.42" font-size="8.7" text-anchor="middle" fill="#151515" textLength="23.95" lengthAdjust="spacingAndGlyphs" xml:space="preserve" >5.004</text>
<text x="206.6" y="347.42" font-size="8.7" text-anchor="middle" fill="#151515" textLength="65.18" lengthAdjust="spacingAndGlyphs" xml:space="preserve" >(1.663 − 15.06)</text>
<text x="448.9" y="341.32" font-size="8.7" text-anchor="start" fill="#151515" textLength="34.06" lengthAdjust="spacingAndGlyphs" xml:space="preserve" >0.004 **</text>
<path d="M375.76,339.32 H430.59 M375.76,337.72 V340.92 M430.59,337.72 V340.92" stroke="#4a7fb0" stroke-width="1" fill="none"/>
<rect x="400.27" y="336.42" width="5.8" height="5.8" fill="#c8102e"/>
<text x="35.8" y="366.14" font-size="9.5" text-anchor="start" font-weight="bold" fill="#111" xml:space="preserve" >Euroflow MRD</text>
<text x="132.5" y="360.54" font-size="8.7" text-anchor="middle" fill="#1c1c1c" xml:space="preserve" >negative</text>
<text x="132.5" y="371.24" font-size="8.7" text-anchor="middle" fill="#1c1c1c" textLength="27.45" lengthAdjust="spacingAndGlyphs" xml:space="preserve" >(n=38)</text>
<text x="206.6" y="365.94" font-size="8.85" text-anchor="middle" fill="#1c1c1c" xml:space="preserve" >reference</text>
<rect x="360.2" y="360.24" width="5.8" height="5.8" fill="#c8102e"/>
<text x="132.5" y="384.36" font-size="8.7" text-anchor="middle" fill="#1c1c1c" xml:space="preserve" >no LAIP</text>
<text x="132.5" y="395.06" font-size="8.7" text-anchor="middle" fill="#1c1c1c" textLength="27.45" lengthAdjust="spacingAndGlyphs" xml:space="preserve" >(n=10)</text>
<text x="206.6" y="384.06" font-size="8.7" text-anchor="middle" fill="#151515" textLength="23.95" lengthAdjust="spacingAndGlyphs" xml:space="preserve" >2.117</text>
<text x="206.6" y="395.06" font-size="8.7" text-anchor="middle" fill="#151515" textLength="59.86" lengthAdjust="spacingAndGlyphs" xml:space="preserve" >(0.524 − 8.55)</text>
<text x="448.9" y="388.96" font-size="8.7" text-anchor="start" fill="#151515" textLength="23.95" lengthAdjust="spacingAndGlyphs" xml:space="preserve" >0.292</text>
<path d="M347.02,386.96 H416.5 M347.02,385.36 V388.56 M416.5,385.36 V388.56" stroke="#4a7fb0" stroke-width="1" fill="none"/>
<rect x="378.86" y="384.06" width="5.8" height="5.8" fill="#c8102e"/>
<text x="132.5" y="408.18" font-size="8.7" text-anchor="middle" fill="#1c1c1c" xml:space="preserve" >positive</text>
<text x="132.5" y="418.88" font-size="8.7" text-anchor="middle" fill="#1c1c1c" textLength="27.45" lengthAdjust="spacingAndGlyphs" xml:space="preserve" >(n=24)</text>
<text x="206.6" y="407.88" font-size="8.7" text-anchor="middle" fill="#151515" textLength="23.95" lengthAdjust="spacingAndGlyphs" xml:space="preserve" >1.046</text>
<text x="206.6" y="418.88" font-size="8.7" text-anchor="middle" fill="#151515" textLength="59.86" lengthAdjust="spacingAndGlyphs" xml:space="preserve" >(0.339 − 3.23)</text>
<text x="448.9" y="412.78" font-size="8.7" text-anchor="start" fill="#151515" textLength="23.95" lengthAdjust="spacingAndGlyphs" xml:space="preserve" >0.938</text>
<path d="M336.18,410.78 H392.28 M336.18,409.18 V412.38 M392.28,409.18 V412.38" stroke="#4a7fb0" stroke-width="1" fill="none"/>
<rect x="361.32" y="407.88" width="5.8" height="5.8" fill="#c8102e"/>
<text x="35.8" y="437.6" font-size="9.5" text-anchor="start" font-weight="bold" fill="#111" xml:space="preserve" >WBC</text>
<text x="132.5" y="437.6" font-size="8.7" text-anchor="middle" fill="#1c1c1c" textLength="27.45" lengthAdjust="spacingAndGlyphs" xml:space="preserve" >(n=72)</text>
<text x="206.6" y="431.7" font-size="8.7" text-anchor="middle" fill="#151515" textLength="23.95" lengthAdjust="spacingAndGlyphs" xml:space="preserve" >1.004</text>
<text x="206.6" y="442.7" font-size="8.7" text-anchor="middle" fill="#151515" textLength="62.51" lengthAdjust="spacingAndGlyphs" xml:space="preserve" >(0.992 −  1.02)</text>
<text x="448.9" y="436.6" font-size="8.7" text-anchor="start" fill="#151515" textLength="23.95" lengthAdjust="spacingAndGlyphs" xml:space="preserve" >0.544</text>
<path d="M362.9,434.6 H363.59 M362.9,433 V436.2 M363.59,433 V436.2" stroke="#4a7fb0" stroke-width="1" fill="none"/>
<path d="M363.3,425 V429.8" stroke="#2f6aa6" stroke-width="1.1"/>
<rect x="360.3" y="431.7" width="5.8" height="5.8" fill="#c8102e"/>
<text x="35.8" y="461.42" font-size="9.5" text-anchor="start" font-weight="bold" fill="#111" xml:space="preserve" >Age</text>
<text x="132.5" y="461.42" font-size="8.7" text-anchor="middle" fill="#1c1c1c" textLength="27.45" lengthAdjust="spacingAndGlyphs" xml:space="preserve" >(n=72)</text>
<text x="206.6" y="455.52" font-size="8.7" text-anchor="middle" fill="#151515" textLength="23.95" lengthAdjust="spacingAndGlyphs" xml:space="preserve" >0.956</text>
<text x="206.6" y="466.52" font-size="8.7" text-anchor="middle" fill="#151515" textLength="62.51" lengthAdjust="spacingAndGlyphs" xml:space="preserve" >(0.920 −  0.99)</text>
<text x="448.9" y="460.42" font-size="8.7" text-anchor="start" fill="#151515" textLength="30.33" lengthAdjust="spacingAndGlyphs" xml:space="preserve" >0.020 *</text>
<path d="M361.03,458.42 H362.85 M361.03,456.82 V460.02 M362.85,456.82 V460.02" stroke="#4a7fb0" stroke-width="1" fill="none"/>
<rect x="359.08" y="455.52" width="5.8" height="5.8" fill="#c8102e"/>
<text x="35.8" y="485.24" font-size="9.5" text-anchor="start" font-weight="bold" fill="#111" xml:space="preserve" >ELN poor risk</text>
<text x="132.5" y="479.64" font-size="8.7" text-anchor="middle" fill="#1c1c1c" xml:space="preserve" >no</text>
<text x="132.5" y="490.34" font-size="8.7" text-anchor="middle" fill="#1c1c1c" textLength="27.45" lengthAdjust="spacingAndGlyphs" xml:space="preserve" >(n=52)</text>
<text x="206.6" y="485.04" font-size="8.85" text-anchor="middle" fill="#1c1c1c" xml:space="preserve" >reference</text>
<rect x="360.2" y="479.34" width="5.8" height="5.8" fill="#c8102e"/>
<text x="132.5" y="503.46" font-size="8.7" text-anchor="middle" fill="#1c1c1c" xml:space="preserve" >poor</text>
<text x="132.5" y="514.16" font-size="8.7" text-anchor="middle" fill="#1c1c1c" textLength="27.45" lengthAdjust="spacingAndGlyphs" xml:space="preserve" >(n=20)</text>
<text x="206.6" y="503.16" font-size="8.7" text-anchor="middle" fill="#151515" textLength="23.95" lengthAdjust="spacingAndGlyphs" xml:space="preserve" >5.249</text>
<text x="206.6" y="514.16" font-size="8.7" text-anchor="middle" fill="#151515" textLength="65.18" lengthAdjust="spacingAndGlyphs" xml:space="preserve" >(1.394 − 19.76)</text>
<text x="448.9" y="508.06" font-size="8.7" text-anchor="start" fill="#151515" textLength="30.33" lengthAdjust="spacingAndGlyphs" xml:space="preserve" >0.014 *</text>
<path d="M371.37,506.06 H437.35 M371.37,504.46 V507.66 M437.35,504.46 V507.66" stroke="#4a7fb0" stroke-width="1" fill="none"/>
<rect x="401.46" y="503.16" width="5.8" height="5.8" fill="#c8102e"/>
<text x="35.8" y="532.88" font-size="9.5" text-anchor="start" font-weight="bold" fill="#111" xml:space="preserve" >HSCT</text>
<text x="132.5" y="527.28" font-size="8.7" text-anchor="middle" fill="#1c1c1c" xml:space="preserve" >no</text>
<text x="132.5" y="537.98" font-size="8.7" text-anchor="middle" fill="#1c1c1c" textLength="22.12" lengthAdjust="spacingAndGlyphs" xml:space="preserve" >(n=7)</text>
<text x="206.6" y="532.68" font-size="8.85" text-anchor="middle" fill="#1c1c1c" xml:space="preserve" >reference</text>
<rect x="360.2" y="526.98" width="5.8" height="5.8" fill="#c8102e"/>
<text x="132.5" y="551.1" font-size="8.7" text-anchor="middle" fill="#1c1c1c" xml:space="preserve" >yes</text>
<text x="132.5" y="561.8" font-size="8.7" text-anchor="middle" fill="#1c1c1c" textLength="27.45" lengthAdjust="spacingAndGlyphs" xml:space="preserve" >(n=65)</text>
<text x="206.6" y="550.8" font-size="8.7" text-anchor="middle" fill="#151515" textLength="23.95" lengthAdjust="spacingAndGlyphs" xml:space="preserve" >0.047</text>
<text x="206.6" y="561.8" font-size="8.7" text-anchor="middle" fill="#151515" textLength="59.86" lengthAdjust="spacingAndGlyphs" xml:space="preserve" >(0.011 − 0.21)</text>
<text x="448.9" y="555.7" font-size="8.7" text-anchor="start" fill="#151515" textLength="43.37" lengthAdjust="spacingAndGlyphs" xml:space="preserve" >&lt;0.001 ***</text>
<path d="M250.87,553.7 H324.26 M250.87,552.1 V555.3 M324.26,552.1 V555.3" stroke="#4a7fb0" stroke-width="1" fill="none"/>
<rect x="284.11" y="550.8" width="5.8" height="5.8" fill="#c8102e"/>
<text x="35.8" y="580.52" font-size="9.5" text-anchor="start" font-weight="bold" fill="#111" xml:space="preserve" >Molecular MRD</text>
<text x="132.5" y="574.92" font-size="8.7" text-anchor="middle" fill="#1c1c1c" xml:space="preserve" >no</text>
<text x="132.5" y="585.62" font-size="8.7" text-anchor="middle" fill="#1c1c1c" textLength="27.45" lengthAdjust="spacingAndGlyphs" xml:space="preserve" >(n=20)</text>
<text x="206.6" y="580.32" font-size="8.85" text-anchor="middle" fill="#1c1c1c" xml:space="preserve" >reference</text>
<rect x="360.2" y="574.62" width="5.8" height="5.8" fill="#c8102e"/>
<text x="132.5" y="598.74" font-size="8.7" text-anchor="middle" fill="#1c1c1c" xml:space="preserve" >wt</text>
<text x="132.5" y="609.44" font-size="8.7" text-anchor="middle" fill="#1c1c1c" textLength="27.45" lengthAdjust="spacingAndGlyphs" xml:space="preserve" >(n=40)</text>
<text x="206.6" y="598.44" font-size="8.7" text-anchor="middle" fill="#151515" textLength="23.95" lengthAdjust="spacingAndGlyphs" xml:space="preserve" >1.567</text>
<text x="206.6" y="609.44" font-size="8.7" text-anchor="middle" fill="#151515" textLength="62.51" lengthAdjust="spacingAndGlyphs" xml:space="preserve" >(0.295 −  8.33)</text>
<text x="448.9" y="603.34" font-size="8.7" text-anchor="start" fill="#151515" textLength="23.95" lengthAdjust="spacingAndGlyphs" xml:space="preserve" >0.598</text>
<path d="M332.72,601.34 H415.85 M332.72,599.74 V602.94 M415.85,599.74 V602.94" stroke="#4a7fb0" stroke-width="1" fill="none"/>
<rect x="371.38" y="598.44" width="5.8" height="5.8" fill="#c8102e"/>
<text x="132.5" y="622.56" font-size="8.7" text-anchor="middle" fill="#1c1c1c" xml:space="preserve" >yes</text>
<text x="132.5" y="633.26" font-size="8.7" text-anchor="middle" fill="#1c1c1c" textLength="27.45" lengthAdjust="spacingAndGlyphs" xml:space="preserve" >(n=12)</text>
<text x="206.6" y="622.26" font-size="8.7" text-anchor="middle" fill="#151515" textLength="29.27" lengthAdjust="spacingAndGlyphs" xml:space="preserve" >34.096</text>
<text x="206.6" y="633.26" font-size="8.7" text-anchor="middle" fill="#151515" textLength="65.18" lengthAdjust="spacingAndGlyphs" xml:space="preserve" >(0.708 − 23.70)</text>
<text x="448.9" y="627.16" font-size="8.7" text-anchor="start" fill="#151515" textLength="23.95" lengthAdjust="spacingAndGlyphs" xml:space="preserve" >0.115</text>
<path d="M354.51,625.16 H441.87 M354.51,623.56 V626.76 M441.87,623.56 V626.76" stroke="#4a7fb0" stroke-width="1" fill="none"/>
<rect x="395.31" y="622.26" width="5.8" height="5.8" fill="#c8102e"/>
<text x="35" y="658.5" font-size="7.9" fill="#151515" textLength="189.20" lengthAdjust="spacingAndGlyphs"># Events: 18; Global <tspan font-style="italic">p</tspan>−value (Log−Rank): 0.0016756</text>
<text x="35" y="667.7" font-size="7.9" text-anchor="start" fill="#151515" textLength="136.04" lengthAdjust="spacingAndGlyphs" xml:space="preserve" >AIC: 133.96; Concordance Index: 0.84</text>
<rect x="0.6" y="0.6" width="518.8" height="679.8" fill="none" stroke="#111" stroke-width="1.2"/>
</svg></body></html>
